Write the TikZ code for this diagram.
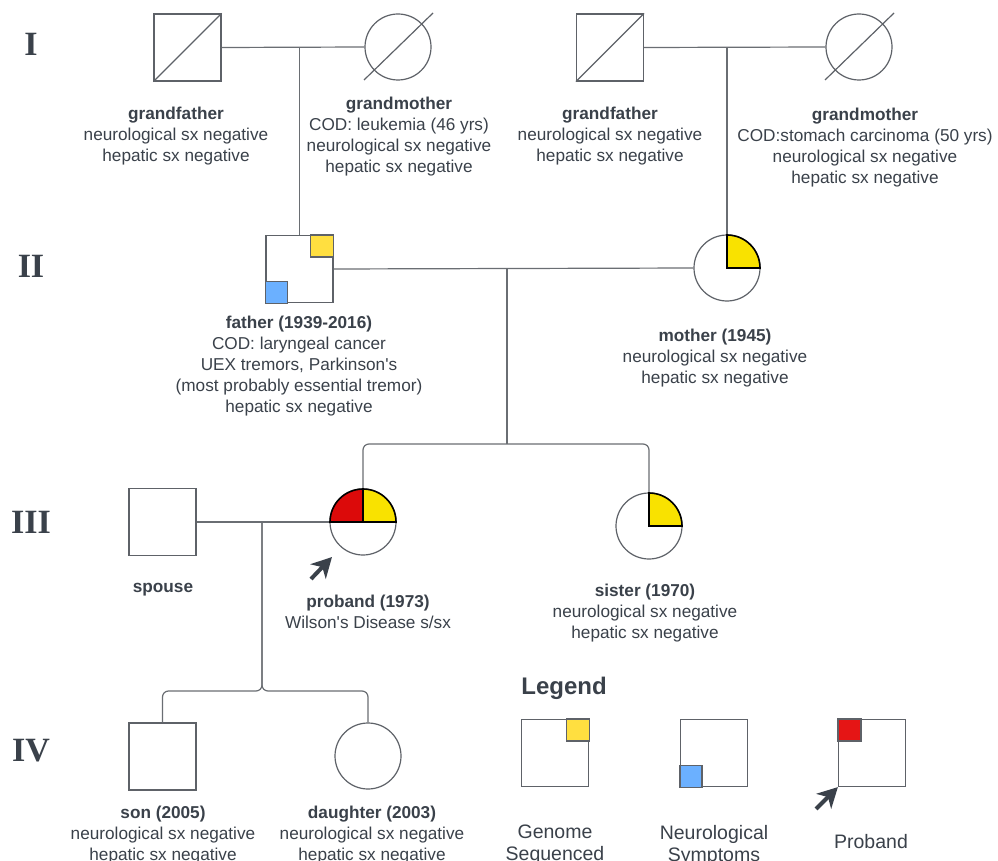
\documentclass[tikz,border=0pt]{standalone}
\usepackage{fontspec}
\setmainfont{Liberation Sans}
\newfontfamily\numfont{Liberation Serif}
\usetikzlibrary{arrows.meta,calc}

\definecolor{txt}{HTML}{3A414A}
\definecolor{outline}{HTML}{5E6268}
\definecolor{kincol}{HTML}{6A6E73}
\definecolor{markyellow}{HTML}{FFDF40}
\definecolor{markblue}{HTML}{6BB0FF}
\definecolor{markred}{HTML}{E51515}
\definecolor{qyellow}{HTML}{F9E200}
\definecolor{qred}{HTML}{DC0A0A}

\tikzset{
  male/.style={shape=rectangle, draw=outline, line width=1.2pt, fill=white, minimum size=67pt, inner sep=0pt},
  female/.style={shape=circle, draw=outline, line width=1.2pt, fill=white, minimum size=66pt, inner sep=0pt},
  kin/.style={draw=kincol, line width=1.2pt},
  slash/.style={draw=outline, line width=1.2pt},
  info/.style={text=txt, align=center, anchor=north, inner sep=0pt, font=\fontsize{17.2}{21}\selectfont},
  legtext/.style={text=txt, align=center, anchor=north, inner sep=0pt, font=\fontsize{19.5}{22}\selectfont},
  gen/.style={text=txt, inner sep=0pt, font=\numfont\bfseries\fontsize{34}{34}\selectfont},
  quad/.style={draw=black, line width=1.6pt},
  marker/.style={draw=outline, line width=1.2pt},
  pointer/.style={draw=txt, line width=4pt, -{Stealth[length=20pt,width=21pt,inset=6pt]}},
}

\begin{document}
\begin{tikzpicture}[x=1pt,y=-1pt]
\clip (0,0) rectangle (998,861);
\fill[white] (0,0) rectangle (998,861);

% generation labels
\node[gen] (genI)   at (31,44)  {I};
\node[gen] (genII)  at (31,266) {II};
\node[gen] (genIII) at (31,522) {III};
\node[gen] (genIV)  at (31,751) {IV};

% ---- generation I ----
\node[male]   (gfA) at (187.5,47.5) {};
\node[female] (gmA) at (398,47) {};
\node[male]   (gfB) at (610,47.5) {};
\node[female] (gmB) at (859,47) {};

% ---- generation II ----
\node[male]   (father) at (299.5,269) {};
\node[female] (mother) at (727,268) {};

% ---- generation III ----
\node[male]   (spouse)  at (162.5,522) {};
\node[female] (proband) at (363,522) {};
\node[female] (sister)  at (649,526) {};

% ---- generation IV ----
\node[male]   (son)      at (162.5,756.5) {};
\node[female] (daughter) at (368,756) {};

% ---- legend symbols ----
\node[male] (legG) at (555,753) {};
\node[male] (legN) at (714,753) {};
\node[male] (legP) at (872,753) {};

% deceased slashes
\draw[slash] (gfA.south west) -- (gfA.north east);
\draw[slash] (gfB.south west) -- (gfB.north east);
\draw[slash] ($(gmA.center)+(-34pt,-33pt)$) -- ($(gmA.center)+(35pt,34pt)$);
\draw[slash] ($(gmB.center)+(-34pt,-33pt)$) -- ($(gmB.center)+(35pt,34pt)$);

% marriage and descent lines
\draw[kin] (gfA.east) -- (gmA.west);
\draw[kin] (father.north) -- (father.north |- gmA.west);
\draw[kin] (gfB.east) -- (gmB.west);
\draw[kin] (mother.north) -- (mother.north |- gmB.west);

\coordinate (sibA) at (507,444);
\draw[kin] (father.east) -- (mother.west);
\draw[kin] (sibA |- father.east) -- (sibA);
\draw[kin, rounded corners=6pt] (proband.north) |- (sibA) -| (sister.north);

\coordinate (sibB) at (262,691);
\draw[kin] (spouse.east) -- (proband.west);
\draw[kin, rounded corners=6pt] (sibB |- spouse.east) -- (sibB) -| (son.north);
\draw[kin, rounded corners=6pt] (sibB |- spouse.east) -- (sibB) -| (daughter.north);

% status markers on symbols
\filldraw[marker, fill=markyellow] (father.north east) rectangle ++(-23pt,-22pt);
\filldraw[marker, fill=markblue] (father.south west) rectangle ++(22pt,22pt);
\filldraw[quad, fill=qyellow] (mother.center) -- ++(0pt,33pt) arc[start angle=90, end angle=0, radius=33pt] -- cycle;
\filldraw[quad, fill=qyellow] (sister.center) -- ++(0pt,33pt) arc[start angle=90, end angle=0, radius=33pt] -- cycle;
\filldraw[quad, fill=qred] (proband.center) -- ++(-33pt,0pt) arc[start angle=180, end angle=90, radius=33pt] -- cycle;
\filldraw[quad, fill=qyellow] (proband.center) -- ++(0pt,33pt) arc[start angle=90, end angle=0, radius=33pt] -- cycle;

\filldraw[marker, fill=markyellow] (legG.north east) rectangle ++(-23pt,-22pt);
\filldraw[marker, fill=markblue] (legN.south west) rectangle ++(22pt,22pt);
\filldraw[marker, fill=markred] (legP.north west) rectangle ++(23pt,-22pt);

% proband pointers
\coordinate (pbTail) at (311,579);
\coordinate (pbTip) at (332,557);
\draw[pointer] (pbTail) -- (pbTip);
\coordinate (legTail) at (816,809);
\draw[pointer] (legTail) -- (legP.south west);

% person descriptions
\node[info] (tgfA) at (176,107) {{\bfseries grandfather}\\neurological sx negative\\hepatic sx negative};
\node[info] (tgmA) at (399,97) {{\bfseries grandmother}\\COD: leukemia (46 yrs)\\neurological sx negative\\hepatic sx negative};
\node[info] (tgfB) at (610,107) {{\bfseries grandfather}\\neurological sx negative\\hepatic sx negative};
\node[info] (tgmB) at (865,108) {{\bfseries grandmother}\\COD:stomach carcinoma (50 yrs)\\neurological sx negative\\hepatic sx negative};
\node[info] (tfather) at (299,316) {{\bfseries father (1939-2016)}\\COD: laryngeal cancer\\UEX tremors, Parkinson\textquotesingle s\\(most probably essential tremor)\\hepatic sx negative};
\node[info] (tmother) at (715,329) {{\bfseries mother (1945)}\\neurological sx negative\\hepatic sx negative};
\node[info] (tspouse) at (163,583) {{\bfseries spouse}};
\node[info] (tproband) at (368,595) {{\bfseries proband (1973)}\\Wilson\textquotesingle s Disease s/sx};
\node[info] (tsister) at (645,584) {{\bfseries sister (1970)}\\neurological sx negative\\hepatic sx negative};
\node[info] (tson) at (163,806) {{\bfseries son (2005)}\\neurological sx negative\\hepatic sx negative};
\node[info] (tdaughter) at (372,806) {{\bfseries daughter (2003)}\\neurological sx negative\\hepatic sx negative};

% legend texts
\node[text=txt, anchor=base, inner sep=0pt, font=\bfseries\fontsize{24}{28}\selectfont] (legtitle) at (564,694) {Legend};
\node[legtext] (tlegG) at (555,825) {Genome\\Sequenced};
\node[legtext] (tlegN) at (714,825) {Neurological\\Symptoms};
\node[legtext] (tlegP) at (871,834) {Proband};
\end{tikzpicture}
\end{document}
